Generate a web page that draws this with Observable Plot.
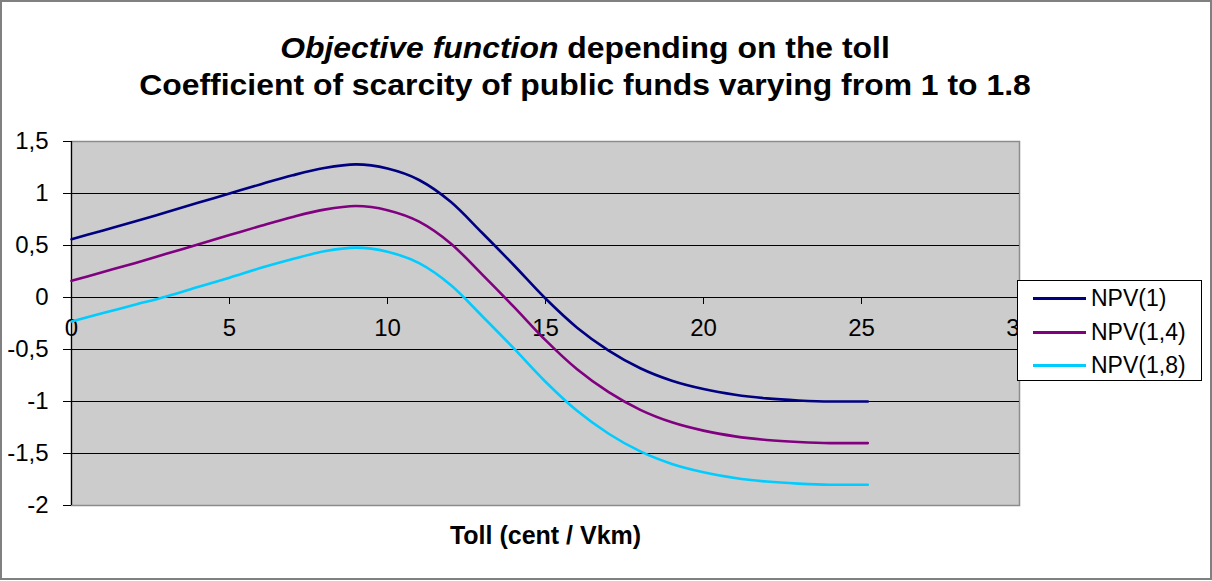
<!DOCTYPE html>
<html>
<head>
<meta charset="utf-8">
<script src="https://cdn.jsdelivr.net/npm/d3@7"></script>
<script src="https://cdn.jsdelivr.net/npm/@observablehq/plot@0.6"></script>
<style>
  body { margin: 0; background: #fff; font-family: "Liberation Sans", Arial, sans-serif; }
  #wrap { position: relative; width: 1212px; height: 581px; overflow: hidden; background: #fff; }
  #wrap svg { position: absolute; left: 0; top: 0; }
  #title { position: absolute; left: 0; top: 30px; width: 1170px; text-align: center; font-weight: bold;
           font-size: 29px; line-height: 37px; color: #000; transform: scaleX(1.1); transform-origin: 585px 0; }
  #legend { position: absolute; left: 1017px; top: 280px; width: 185px; height: 101px; box-sizing: border-box;
            border: 1px solid #000; background: #fff; }
  .lg-row { position: absolute; left: 0; height: 30px; width: 183px; }
  .lg-line { position: absolute; left: 15px; width: 53px; height: 3px; top: 14px; }
  .lg-text { position: absolute; left: 73px; top: 1px; font-size: 23px; line-height: 28px; color: #000; }
  #border { position: absolute; left: 0; top: 0; width: 1212px; height: 580px; box-sizing: border-box;
            border: 2px solid #808080; pointer-events: none; }
</style>
</head>
<body>
<div id="wrap"></div>
<script>
// ---- data ----
const toll = [0, 1, 2, 3, 4, 5, 6, 7, 8, 9, 10, 11, 12, 13, 14, 15, 16, 17, 18, 19, 20, 21, 22, 23, 24, 25, 25.2];
const npv1  = [0.56, 0.645, 0.73, 0.82, 0.91, 1.00, 1.09, 1.175, 1.245, 1.28, 1.24, 1.13, 0.92, 0.62, 0.31, -0.01, -0.29, -0.51, -0.68, -0.80, -0.88, -0.935, -0.97, -0.99, -1.00, -1.00, -1.00];
const npv14 = [0.16, 0.245, 0.33, 0.42, 0.51, 0.60, 0.69, 0.775, 0.845, 0.88, 0.84, 0.73, 0.52, 0.22, -0.09, -0.41, -0.69, -0.91, -1.08, -1.20, -1.28, -1.335, -1.37, -1.39, -1.40, -1.40, -1.40];
const npv18 = [-0.23, -0.15, -0.07, 0.01, 0.10, 0.19, 0.285, 0.37, 0.445, 0.48, 0.44, 0.33, 0.12, -0.18, -0.49, -0.81, -1.09, -1.31, -1.48, -1.60, -1.68, -1.735, -1.77, -1.79, -1.80, -1.80, -1.80];
const seriesNames = ["NPV(1)", "NPV(1,4)", "NPV(1,8)"];
const seriesColors = ["#000080", "#800080", "#00ccff"];
const yTicks = [-2, -1.5, -1, -0.5, 0, 0.5, 1, 1.5];
const gridY = [-1.5, -1, -0.5, 0, 0.5, 1];
const xTicks = [0, 5, 10, 15, 20, 25, 30];
const titleLine1Italic = "Objective function";
const titleLine1Rest = " depending on the toll";
const titleLine2 = "Coefficient of scarcity of public funds varying from 1 to 1.8";
const xLabel = "Toll (cent / Vkm)";

const seriesValues = [npv1, npv14, npv18];
const data = [];
seriesValues.forEach((arr, k) => arr.forEach((v, i) => data.push({toll: toll[i], npv: v, series: seriesNames[k]})));

const fmt = d => String(d).replace(".", ",");

const chart = Plot.plot({
  width: 1212,
  height: 581,
  marginLeft: 71,
  marginRight: 193,
  marginTop: 141,
  marginBottom: 76,
  style: { fontFamily: '"Liberation Sans", Arial, sans-serif', fontSize: "24px", background: "transparent", color: "#000" },
  x: { domain: [0, 30], axis: null, label: null },
  y: { domain: [-2, 1.5], axis: null, label: null },
  color: { domain: seriesNames, range: seriesColors },
  marks: [
    Plot.frame({ fill: "#cccccc", stroke: "#8c8c8c", strokeWidth: 1.5 }),
    Plot.ruleY(gridY, { stroke: "#000", strokeWidth: 1 }),
    Plot.ruleX([0], { stroke: "#000", strokeWidth: 1.2 }),
    Plot.axisY(yTicks, { tickSize: 8, tickPadding: 15, tickFormat: fmt, fontSize: 24, label: null, stroke: "#000" }),
    Plot.ruleX(xTicks, { x: d => d, y1: 0, y2: 0, insetBottom: -7, stroke: "#000" }),
    Plot.text(xTicks, { x: d => d, y: 0, dy: 31, text: d => String(d), fontSize: 24, fill: "#000" }),
    Plot.line(data, { x: "toll", y: "npv", z: "series", stroke: "series", strokeWidth: 2.6, curve: "monotone-x" }),
    Plot.text([xLabel], { frameAnchor: "bottom", dy: 38, text: d => d, fontWeight: "bold", fontSize: 25, fill: "#000" })
  ]
});

const wrap = document.getElementById("wrap");
wrap.appendChild(chart);

const title = document.createElement("div");
title.id = "title";
const it = document.createElement("i");
it.textContent = titleLine1Italic;
title.appendChild(it);
title.appendChild(document.createTextNode(titleLine1Rest));
title.appendChild(document.createElement("br"));
title.appendChild(document.createTextNode(titleLine2));
wrap.appendChild(title);

const legend = document.createElement("div");
legend.id = "legend";
const rowTops = [2, 36, 69];
seriesNames.forEach((name, k) => {
  const row = document.createElement("div");
  row.className = "lg-row";
  row.style.top = rowTops[k] + "px";
  const ln = document.createElement("div");
  ln.className = "lg-line";
  ln.style.background = seriesColors[k];
  const tx = document.createElement("div");
  tx.className = "lg-text";
  tx.textContent = name;
  row.appendChild(ln);
  row.appendChild(tx);
  legend.appendChild(row);
});
wrap.appendChild(legend);

const border = document.createElement("div");
border.id = "border";
wrap.appendChild(border);
</script>
</body>
</html>
